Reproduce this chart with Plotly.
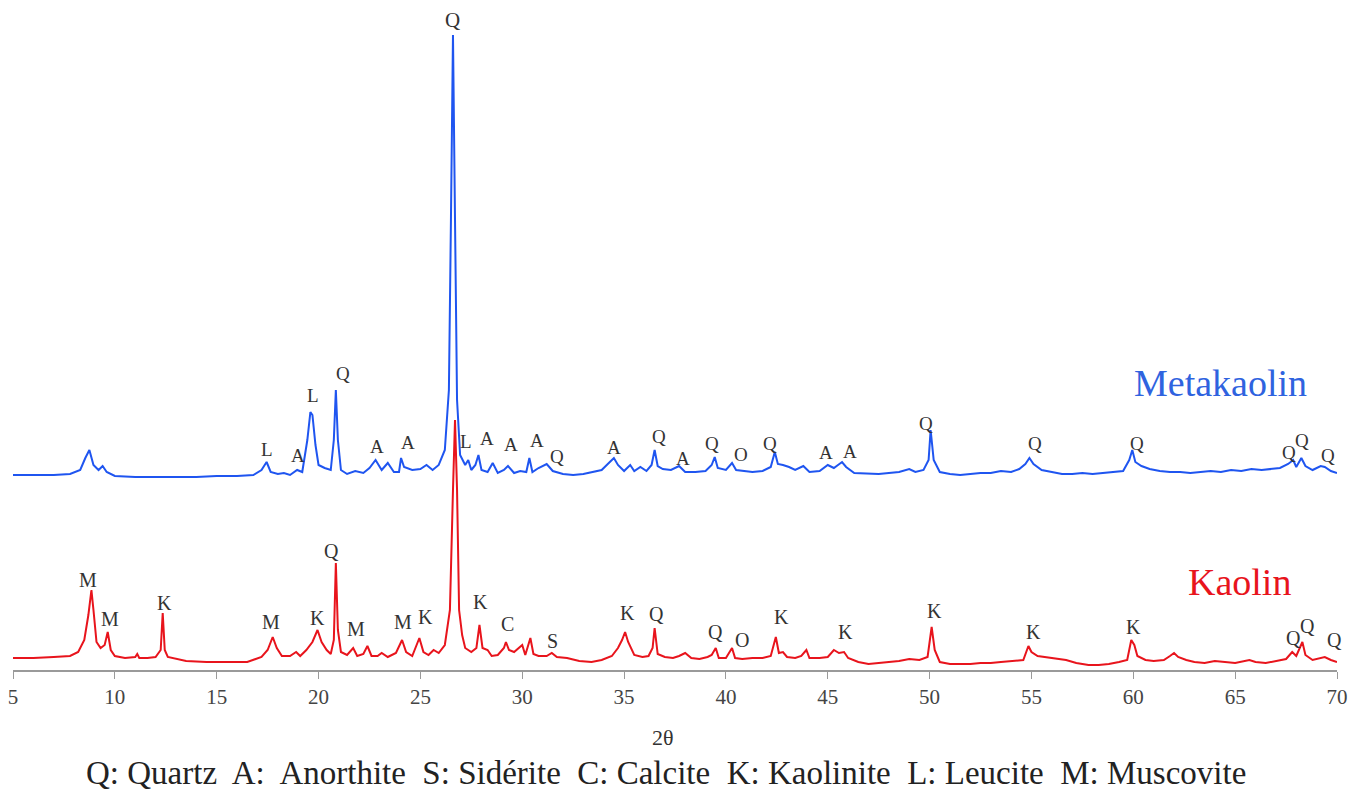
import plotly.graph_objects as go

# ---------------- data (2theta, intensity in arbitrary units above the axis) ----------------
kaolin_2theta = [5.0, 6.0, 7.0, 7.8, 8.2, 8.5, 8.7, 8.85, 8.95, 9.1, 9.3, 9.5, 9.65, 9.8, 10.0, 10.5, 11.0, 11.1, 11.2, 11.6,
                 12.0, 12.25, 12.35, 12.45, 12.6, 13.5, 14.5, 15.5, 16.5, 17.2, 17.5, 17.75, 17.95, 18.2, 18.6, 18.9, 19.1,
                 19.4, 19.7, 19.95, 20.15, 20.4, 20.6, 20.75, 20.85, 20.95, 21.1, 21.4, 21.7, 21.9, 22.2, 22.4, 22.6, 22.9,
                 23.1, 23.4, 23.8, 24.1, 24.3, 24.6, 24.95, 25.15, 25.4, 25.65, 25.9, 26.2, 26.45, 26.6, 26.7, 26.8, 26.9,
                 27.05, 27.2, 27.5, 27.75, 27.9, 28.05, 28.3, 28.5, 28.8, 29.1, 29.2, 29.35, 29.6, 29.8, 30.0, 30.15, 30.4,
                 30.55, 30.8, 31.2, 31.45, 31.7, 32.2, 32.8, 33.4, 33.9, 34.4, 34.7, 34.9, 35.05, 35.2, 35.5, 35.9, 36.2,
                 36.4, 36.5, 36.65, 37.0, 37.4, 37.7, 38.0, 38.3, 38.7, 39.1, 39.3, 39.5, 39.65, 40.0, 40.3, 40.45, 40.8,
                 41.3, 41.8, 42.2, 42.45, 42.6, 42.8, 43.0, 43.4, 43.7, 43.95, 44.1, 44.6, 45.0, 45.3, 45.55, 45.8, 46.0,
                 46.5, 47.0, 47.5, 48.0, 48.5, 49.0, 49.5, 49.9, 50.1, 50.25, 50.5, 51.0, 52.0, 52.5, 53.0, 53.5, 54.0,
                 54.6, 54.85, 55.0, 55.3, 55.7, 56.2, 56.7, 57.2, 57.8, 58.3, 58.8, 59.3, 59.7, 59.9, 60.05, 60.2, 60.6,
                 61.0, 61.5, 61.8, 62.0, 62.2, 62.6, 63.0, 63.5, 64.0, 64.5, 65.0, 65.7, 66.0, 66.5, 67.0, 67.5, 67.8,
                 68.0, 68.3, 68.45, 68.8, 69.2, 69.4, 69.7, 70.0]
kaolin_counts = [12, 12, 13, 14, 18, 30, 55, 80, 60, 28, 22, 25, 38, 20, 14, 12, 13, 16, 12, 12,
                 13, 20, 57, 20, 13, 9, 8, 8, 8, 13, 20, 33, 22, 14, 14, 18, 14,
                 20, 28, 40, 28, 20, 16, 30, 107, 40, 18, 15, 22, 14, 16, 24, 14, 14,
                 17, 13, 17, 30, 18, 14, 32, 18, 15, 20, 17, 25, 60, 180, 250, 180, 60,
                 35, 22, 18, 22, 45, 22, 20, 14, 15, 22, 28, 20, 18, 22, 25, 15, 32,
                 16, 14, 14, 17, 13, 12, 9, 8, 10, 14, 22, 30, 38, 28, 15, 13, 14,
                 22, 42, 16, 13, 12, 14, 17, 12, 11, 13, 15, 22, 12, 12, 22, 12, 11,
                 12, 12, 14, 33, 17, 18, 13, 12, 14, 20, 12, 12, 13, 20, 17, 18, 12,
                 8, 6, 7, 8, 9, 11, 10, 13, 43, 20, 8, 6, 6, 7, 7, 8, 9,
                 10, 24, 18, 14, 13, 12, 10, 7, 5, 5, 6, 8, 10, 30, 25, 14, 10,
                 9, 10, 14, 17, 13, 10, 8, 7, 9, 8, 7, 10, 8, 7, 9, 11, 18,
                 14, 28, 15, 10, 12, 13, 10, 8]

metakaolin_2theta = [5.0, 6.0, 7.0, 7.8, 8.3, 8.55, 8.75, 8.95, 9.2, 9.4, 9.6, 10.0, 11.0, 12.0, 13.0, 14.0, 15.0, 16.0,
                     16.8, 17.2, 17.45, 17.65, 18.0, 18.3, 18.6, 18.95, 19.2, 19.45, 19.6, 19.7, 19.85, 20.0, 20.3, 20.6,
                     20.75, 20.85, 20.95, 21.1, 21.4, 21.8, 22.2, 22.5, 22.8, 23.1, 23.4, 23.7, 23.95, 24.05, 24.2, 24.6,
                     25.0, 25.3, 25.6, 25.9, 26.2, 26.4, 26.5, 26.6, 26.7, 26.8, 26.95, 27.2, 27.35, 27.5, 27.7, 27.85,
                     28.0, 28.3, 28.55, 28.8, 29.1, 29.3, 29.6, 29.9, 30.2, 30.35, 30.5, 30.8, 31.2, 31.5, 32.0, 32.5,
                     33.0, 33.5, 33.9, 34.3, 34.5, 34.7, 35.0, 35.3, 35.5, 35.8, 36.1, 36.35, 36.5, 36.65, 36.9, 37.3,
                     37.7, 38.0, 38.5, 39.0, 39.3, 39.45, 39.6, 40.0, 40.3, 40.5, 40.9, 41.3, 41.8, 42.2, 42.4, 42.55,
                     42.8, 43.1, 43.4, 43.8, 44.1, 44.6, 45.0, 45.3, 45.7, 45.9, 46.3, 47.0, 47.5, 48.0, 48.5, 49.0,
                     49.3, 49.7, 49.95, 50.05, 50.2, 50.5, 51.0, 51.5, 52.0, 52.5, 53.0, 53.5, 54.0, 54.4, 54.7, 54.9,
                     55.1, 55.5, 56.0, 56.5, 57.0, 57.5, 58.0, 58.5, 59.0, 59.5, 59.8, 59.95, 60.1, 60.4, 60.8, 61.3,
                     61.8, 62.3, 62.8, 63.3, 63.8, 64.3, 64.8, 65.3, 65.8, 66.3, 66.8, 67.2, 67.6, 67.85, 68.0, 68.25,
                     68.45, 68.8, 69.2, 69.4, 69.7, 70.0]
metakaolin_counts = [195, 195, 195, 196, 200, 212, 220, 205, 200, 204, 198, 194, 193, 193, 193, 193, 194, 194,
                     195, 200, 208, 198, 196, 197, 195, 200, 198, 230, 258, 255, 225, 205, 202, 200,
                     230, 280, 230, 200, 196, 199, 197, 202, 210, 200, 207, 198, 198, 212, 203, 200,
                     201, 205, 200, 205, 220, 280, 450, 635, 450, 270, 215, 205, 210, 200, 205, 215,
                     200, 198, 207, 197, 200, 204, 197, 199, 198, 212, 198, 202, 206, 199, 196, 195,
                     196, 198, 200, 208, 212, 205, 199, 205, 199, 203, 199, 205, 220, 204, 201, 200,
                     204, 198, 198, 199, 205, 213, 202, 200, 207, 200, 199, 198, 199, 203, 218, 206,
                     205, 203, 200, 204, 198, 199, 205, 202, 208, 203, 197, 196, 196, 197, 198, 201,
                     198, 200, 210, 240, 210, 198, 196, 195, 196, 197, 197, 199, 198, 201, 206, 212,
                     206, 200, 198, 196, 196, 197, 196, 197, 198, 199, 210, 220, 208, 204, 201, 199,
                     198, 198, 197, 198, 199, 198, 200, 199, 201, 200, 201, 202, 206, 210, 203, 212,
                     204, 200, 204, 203, 199, 197]

# phase labels on peaks
kaolin_label_text = ["M", "M", "K", "M", "K", "Q", "M", "M", "K", "K", "C", "S", "K", "Q", "Q", "O", "K", "K",
                     "K", "K", "K", "Q", "Q", "Q"]
kaolin_label_x = [8.68, 9.76, 12.46, 17.67, 19.97, 20.66, 21.84, 24.15, 25.23, 27.97, 29.30, 31.51, 35.19, 36.57,
                  39.51, 40.79, 42.75, 45.89, 50.26, 55.12, 60.03, 67.84, 68.57, 69.90]
kaolin_label_y = [90, 51, 67, 48, 52, 119, 41, 48, 53, 68, 46, 29, 57, 56, 38, 30, 53, 38, 59, 38, 43, 32, 44, 30]

metakaolin_label_text = ["Q", "L", "A", "L", "Q", "A", "A", "L", "A", "A", "A", "Q", "A", "Q", "A", "Q", "O", "Q",
                         "A", "A", "Q", "Q", "Q", "Q", "Q", "Q"]
metakaolin_label_x = [26.60, 17.47, 18.99, 19.73, 21.20, 22.87, 24.39, 27.24, 28.27, 29.45, 30.72, 31.71, 34.50,
                      36.71, 37.89, 39.32, 40.74, 42.16, 44.91, 46.09, 49.82, 55.17, 60.18, 67.64, 68.28, 69.56]
metakaolin_label_y = [650, 221, 215, 275, 297, 224, 228, 229, 232, 226, 230, 214, 223, 234, 212, 227, 216, 227,
                      218, 219, 247, 227, 227, 218, 230, 215]

x_ticks = [5, 10, 15, 20, 25, 30, 35, 40, 45, 50, 55, 60, 65, 70]
legend_text = "Q: Quartz  A:  Anorthite  S: Sidérite  C: Calcite  K: Kaolinite  L: Leucite  M: Muscovite"

SERIF = "Liberation Serif"
RED = "#e8141c"
BLUE = "#1f55f0"

fig = go.Figure()
fig.add_trace(go.Scatter(x=kaolin_2theta, y=kaolin_counts, mode="lines", name="Kaolin",
                         line=dict(color=RED, width=2)))
fig.add_trace(go.Scatter(x=metakaolin_2theta, y=metakaolin_counts, mode="lines", name="Metakaolin",
                         line=dict(color=BLUE, width=2)))

annotations = []
for t, x, y in zip(kaolin_label_text, kaolin_label_x, kaolin_label_y):
    annotations.append(dict(x=x, y=y, xref="x", yref="y", text=t, showarrow=False,
                            font=dict(family=SERIF, size=20, color="#333333")))
for i, (t, x, y) in enumerate(zip(metakaolin_label_text, metakaolin_label_x, metakaolin_label_y)):
    annotations.append(dict(x=x, y=y, xref="x", yref="y", text=t, showarrow=False,
                            font=dict(family=SERIF, size=21 if i == 0 else 19, color="#333333")))

annotations.append(dict(x=64.3, y=287, xref="x", yref="y", text="Metakaolin", showarrow=False,
                        font=dict(family=SERIF, size=38, color="#2f63df")))
annotations.append(dict(x=65.2, y=88, xref="x", yref="y", text="Kaolin", showarrow=False,
                        font=dict(family=SERIF, size=38, color=RED)))
annotations.append(dict(x=0.491, y=-67 / 660, xref="paper", yref="paper", xanchor="center", yanchor="middle",
                        text="2θ", showarrow=False, font=dict(family=SERIF, size=22, color="#333333")))
annotations.append(dict(x=0.493, y=-103 / 660, xref="paper", yref="paper", xanchor="center", yanchor="middle",
                        text=legend_text.replace("  ", "&nbsp; "),
                        showarrow=False, font=dict(family=SERIF, size=33, color="#222222")))

# the page body has an 8px default margin, so the figure is shifted by 8px; compensate in the margins
fig.update_layout(
    template="none",
    width=1362, height=782,
    margin=dict(l=5, r=33, t=2, b=120),
    paper_bgcolor="white", plot_bgcolor="white",
    font=dict(family=SERIF),
    showlegend=False,
    annotations=annotations,
    xaxis=dict(range=[5, 70], tickvals=x_ticks, ticktext=[str(v) for v in x_ticks],
               showgrid=False, zeroline=False, showline=True, linecolor="#9a9a9a", linewidth=1.5,
               ticks="outside", ticklen=7, tickcolor="#9a9a9a", automargin=False,
               ticklabeloverflow="allow",
               tickfont=dict(family=SERIF, size=21, color="#444444")),
    yaxis=dict(range=[0, 660], visible=False, automargin=False),
)

fig.write_html("out.html")
